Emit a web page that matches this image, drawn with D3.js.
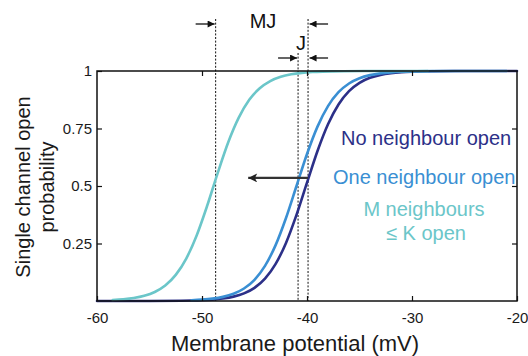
<!DOCTYPE html>
<html>
<head>
<meta charset="utf-8">
<script src="https://cdn.jsdelivr.net/npm/d3@7"></script>
<style>
html,body{margin:0;padding:0;background:#fff;}
svg{display:block;font-family:"Liberation Sans",Arial,sans-serif;}
</style>
</head>
<body>
<svg id="chart" width="528" height="356"></svg>
<script>
// ---- data ----
const xTicks = [-60, -50, -40, -30, -20];
const xTickLabels = ["-60", "-50", "-40", "-30", "-20"];
const yTicks = [0.25, 0.5, 0.75, 1];
const yTickLabels = ["0.25", "0.5", "0.75", "1"];

const noNeighbourX = [-60,-55,-52,-51,-50,-49,-48,-47,-46,-45,-44,-43,-42,-41,-40,-39,-38,-37,-36,-35,-34,-33,-32,-31,-30,-29,-28,-26,-23,-20];
const noNeighbourY = [0,0.0002,0.0011,0.002,0.0035,0.0061,0.0108,0.019,0.0332,0.0573,0.0972,0.1602,0.2524,0.3742,0.5143,0.6523,0.7686,0.8546,0.9124,0.9485,0.9703,0.983,0.9903,0.9945,0.9969,0.9983,0.999,0.9997,0.9999,1];

const oneNeighbourX = [-51,-50,-49,-48,-47,-46,-45,-44,-43,-42,-41,-40,-39,-38,-37,-36,-35,-34,-33,-32,-31,-30,-28,-25,-21];
const oneNeighbourY = [0.0033,0.0058,0.0102,0.018,0.0314,0.0543,0.0923,0.1527,0.2418,0.3609,0.5,0.6391,0.7582,0.8473,0.9077,0.9457,0.9686,0.982,0.9898,0.9942,0.9967,0.9981,0.9994,0.9999,1];

const mNeighboursX = [-58.5,-57.5,-56.5,-55.5,-54.5,-53.5,-52.5,-51.5,-50.5,-49.5,-48.5,-47.5,-46.5,-45.5,-44.5,-43.5,-42.5,-41.5,-40.5,-39.5,-38.5,-37.5,-36.5,-34.5,-31.5,-28.5];
const mNeighboursY = [0.0041,0.0073,0.0128,0.0225,0.0392,0.0673,0.1134,0.1846,0.2861,0.4151,0.557,0.69,0.797,0.8747,0.925,0.9563,0.9748,0.9856,0.9918,0.9954,0.9974,0.9985,0.9992,0.9997,0.9999,1];

const seriesNames = ["No neighbour open", "One neighbour open", "M neighbours"];
const seriesColors = ["#2c3088", "#3a8fd3", "#6bc6c9"];

// reference lines (mV): MJ left edge, One-neighbour midpoint, No-neighbour midpoint
const markerX = [-48.7, -40.85, -39.9];
const shiftArrow = {from: -39.9, to: -45.6, p: 0.535};

// ---- drawing ----
const svg = d3.select("#chart");
const x = d3.scaleLinear().domain([-60, -20]).range([97, 517]);
const y = d3.scaleLinear().domain([0, 1]).range([301, 71]);

// dashed marker lines
const dashTops = [19, 53, 19];
markerX.forEach((v, i) => {
  svg.append("line")
    .attr("x1", x(v)).attr("x2", x(v))
    .attr("y1", dashTops[i]).attr("y2", y(0))
    .attr("stroke", "#111").attr("stroke-width", 1)
    .attr("stroke-dasharray", "2,1.6");
});

// curves
const line = d3.line().x(d => x(d[0])).y(d => y(d[1])).curve(d3.curveMonotoneX);
const curves = [
  d3.zip(noNeighbourX, noNeighbourY),
  d3.zip(oneNeighbourX, oneNeighbourY),
  d3.zip(mNeighboursX, mNeighboursY)
];
curves.forEach((pts, i) => {
  svg.append("path").datum(pts)
    .attr("d", line)
    .attr("fill", "none")
    .attr("stroke", seriesColors[i])
    .attr("stroke-width", 2.6)
    .attr("stroke-linecap", "round");
});

// frame
svg.append("rect")
  .attr("x", x(-60)).attr("y", y(1))
  .attr("width", x(-20) - x(-60)).attr("height", y(0) - y(1))
  .attr("fill", "none").attr("stroke", "#111").attr("stroke-width", 1.5);

// axes
const axB = svg.append("g").attr("transform", `translate(0,${y(0)})`)
  .call(d3.axisBottom(x).tickValues(xTicks).tickSize(-5).tickPadding(11).tickFormat((d, i) => xTickLabels[i]));
const axL = svg.append("g").attr("transform", `translate(${x(-60)},0)`)
  .call(d3.axisLeft(y).tickValues(yTicks).tickSize(-5).tickPadding(5).tickFormat((d, i) => yTickLabels[i]));
const axT = svg.append("g").attr("transform", `translate(0,${y(1)})`)
  .call(d3.axisTop(x).tickValues(xTicks.slice(1, -1)).tickSize(-5).tickFormat(""));
const axR = svg.append("g").attr("transform", `translate(${x(-20)},0)`)
  .call(d3.axisRight(y).tickValues(yTicks.slice(0, -1)).tickSize(-5).tickFormat(""));
[axB, axL, axT, axR].forEach(g => {
  g.select(".domain").remove();
  g.selectAll(".tick line").attr("stroke", "#111").attr("stroke-width", 1.2);
  g.selectAll(".tick text").attr("font-size", 15).attr("fill", "#1a1a1a")
    .attr("font-family", "Liberation Sans, Arial, sans-serif");
});

// arrow markers
const defs = svg.append("defs");
defs.append("marker").attr("id", "ah")
  .attr("viewBox", "0 0 10 10").attr("refX", 10).attr("refY", 5)
  .attr("markerWidth", 9).attr("markerHeight", 7).attr("markerUnits", "userSpaceOnUse")
  .attr("orient", "auto")
  .append("path").attr("d", "M0,0L10,5L0,10Z").attr("fill", "#111");
defs.append("marker").attr("id", "ahBig")
  .attr("viewBox", "0 0 10 10").attr("refX", 10).attr("refY", 5)
  .attr("markerWidth", 11).attr("markerHeight", 9).attr("markerUnits", "userSpaceOnUse")
  .attr("orient", "auto")
  .append("path").attr("d", "M0,0L10,5L0,10L2.5,5Z").attr("fill", "#222");

function arrow(x1, y1, x2, y2, w) {
  svg.append("line").attr("x1", x1).attr("y1", y1).attr("x2", x2).attr("y2", y2)
    .attr("stroke", "#111").attr("stroke-width", w || 1.3).attr("marker-end", "url(#ah)");
}
// MJ arrows
arrow(x(markerX[0]) - 20, 24, x(markerX[0]) - 1, 24);
arrow(x(markerX[2]) + 20, 24, x(markerX[2]) + 1.5, 24);
// J arrows
arrow(x(markerX[1]) - 20, 58, x(markerX[1]) - 1, 58);
arrow(x(markerX[2]) + 20, 58, x(markerX[2]) + 1.5, 58);
// shift arrow
svg.append("line")
  .attr("x1", x(shiftArrow.from)).attr("y1", y(shiftArrow.p))
  .attr("x2", x(shiftArrow.to)).attr("y2", y(shiftArrow.p))
  .attr("stroke", "#333").attr("stroke-width", 2.2).attr("marker-end", "url(#ahBig)");

// annotation labels
svg.append("text").attr("x", 263).attr("y", 28).attr("text-anchor", "middle")
  .attr("font-size", 20).attr("fill", "#111").text("MJ");
svg.append("text").attr("x", 301).attr("y", 50).attr("text-anchor", "middle")
  .attr("font-size", 20).attr("fill", "#111").text("J");

// series labels
svg.append("text").attr("x", 341).attr("y", 145).attr("font-size", 20)
  .attr("fill", seriesColors[0]).text(seriesNames[0]);
svg.append("text").attr("x", 333).attr("y", 184).attr("font-size", 20)
  .attr("fill", seriesColors[1]).text(seriesNames[1]);
svg.append("text").attr("x", 424).attr("y", 216).attr("text-anchor", "middle").attr("font-size", 20)
  .attr("fill", seriesColors[2]).text(seriesNames[2]);
svg.append("text").attr("x", 426).attr("y", 240).attr("text-anchor", "middle").attr("font-size", 20)
  .attr("fill", seriesColors[2]).text("≤ K open");

// axis titles
svg.append("text").attr("x", 295).attr("y", 351).attr("text-anchor", "middle")
  .attr("font-size", 22).attr("fill", "#1a1a1a").text("Membrane potential (mV)");
const yt = svg.append("text").attr("transform", "translate(30,187) rotate(-90)")
  .attr("text-anchor", "middle").attr("font-size", 20).attr("fill", "#1a1a1a");
yt.append("tspan").attr("x", 0).attr("y", 0).text("Single channel open");
yt.append("tspan").attr("x", 0).attr("y", 24).text("probability");
</script>
</body>
</html>
